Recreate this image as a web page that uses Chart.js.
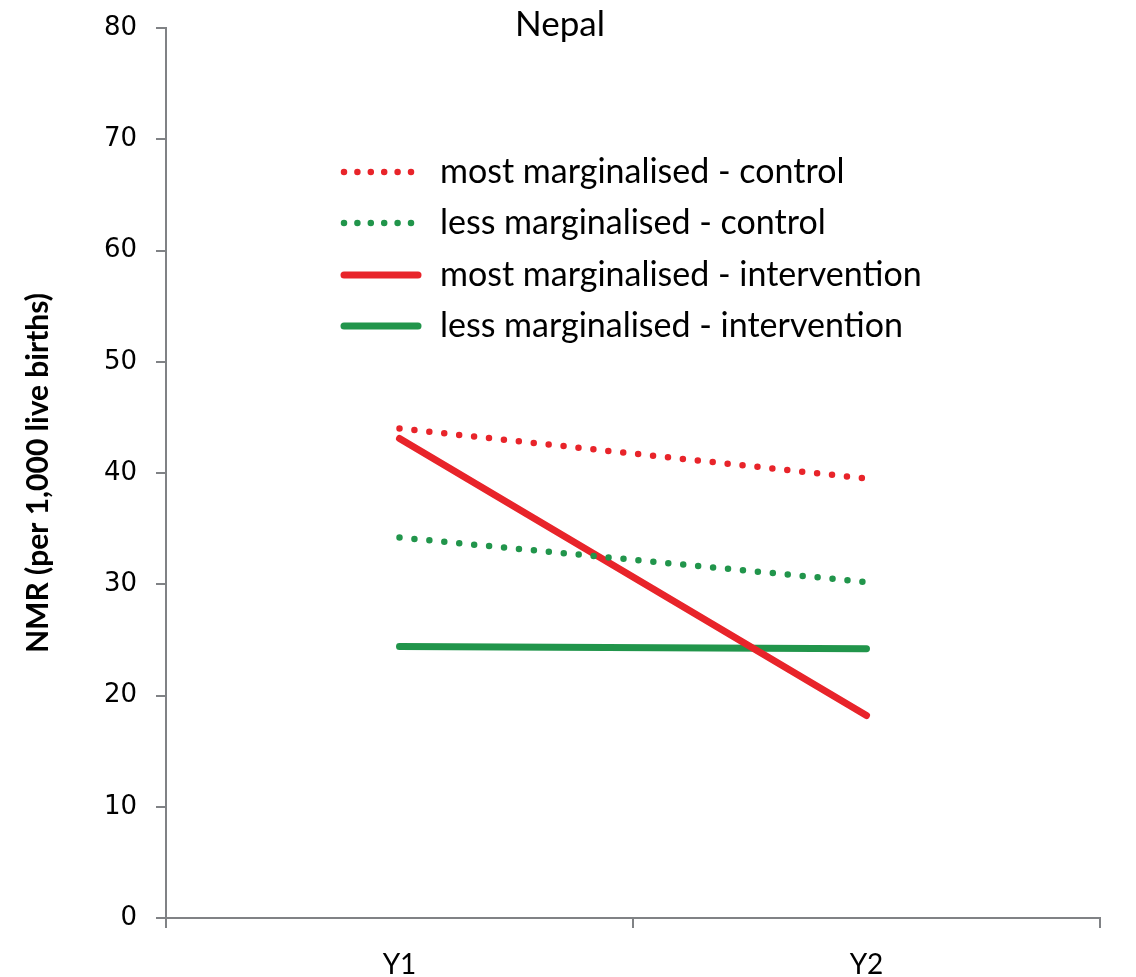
<!DOCTYPE html>
<html>
<head>
<meta charset="utf-8">
<script src="https://cdn.jsdelivr.net/npm/chart.js@4/dist/chart.umd.min.js"></script>
<style>
  html, body { margin: 0; padding: 0; background: #fff; }
  #wrap { width: 1136px; height: 977px; }
</style>
</head>
<body>
<div id="wrap"><canvas id="nmr"></canvas></div>
<script>
// values
const years = ["Y1", "Y2"];
const mostControl = [44.0, 39.5];
const lessControl = [34.2, 30.2];
const mostIntervention = [43.1, 18.2];
const lessIntervention = [24.4, 24.2];

const RED = "#e8242a";
const GREEN = "#21954b";
const AXIS = "#808285";
const TEXT_FONT = "Lato, 'Open Sans', sans-serif";

// legend drawn inside the plot area, like the original
const insideLegend = {
  id: "insideLegend",
  afterDraw(chart) {
    const ctx = chart.ctx;
    const rows = [172, 223, 275, 326];
    ctx.save();
    chart.data.datasets.forEach((ds, i) => {
      const y = rows[i];
      const dotted = !!ds.borderDash;
      ctx.beginPath();
      ctx.strokeStyle = ds.borderColor;
      ctx.lineWidth = ds.borderWidth;
      ctx.lineCap = "round";
      ctx.setLineDash(dotted ? [0, 13.4] : []);
      ctx.moveTo(344, y);
      ctx.lineTo(dotted ? 411 : 418, y);
      ctx.stroke();
      ctx.setLineDash([]);
      ctx.fillStyle = "#000";
      ctx.font = "34px " + TEXT_FONT;
      ctx.textAlign = "left";
      ctx.textBaseline = "middle";
      ctx.fillText(ds.label, 440, y);
    });
    ctx.font = "35px " + TEXT_FONT;
    ctx.textAlign = "center";
    ctx.fillText("Nepal", 560, 25);
    ctx.restore();
  }
};

new Chart(document.getElementById("nmr"), {
  type: "line",
  data: {
    labels: years,
    datasets: [
      { label: "most marginalised - control", data: mostControl, borderColor: RED, borderWidth: 6.5, borderDash: [0, 15], borderCapStyle: "round" },
      { label: "less marginalised - control", data: lessControl, borderColor: GREEN, borderWidth: 6.5, borderDash: [0, 15], borderCapStyle: "round" },
      { label: "most marginalised - intervention", data: mostIntervention, borderColor: RED, borderWidth: 7, borderCapStyle: "round" },
      { label: "less marginalised - intervention", data: lessIntervention, borderColor: GREEN, borderWidth: 7, borderCapStyle: "round" }
    ]
  },
  options: {
    responsive: true,
    maintainAspectRatio: false,
    animation: false,
    elements: { point: { radius: 0, hoverRadius: 0 }, line: { tension: 0 } },
    layout: { padding: { top: 28, right: 36, bottom: 0, left: 0 } },
    plugins: { legend: { display: false }, tooltip: { enabled: false } },
    scales: {
      x: {
        type: "category",
        offset: true,
        grid: { offset: true, drawOnChartArea: false, drawTicks: true, tickLength: 10, color: AXIS, lineWidth: 2 },
        border: { color: AXIS, width: 2 },
        ticks: { color: "#000", padding: 20, font: { family: TEXT_FONT, size: 28 } },
        afterFit(scale) { scale.height = 59; }
      },
      y: {
        min: 0,
        max: 80,
        ticks: { stepSize: 10, color: "#000", padding: 19, font: { family: "'DejaVu Sans', sans-serif", size: 26 } },
        grid: { drawOnChartArea: false, drawTicks: true, tickLength: 10, color: AXIS, lineWidth: 2 },
        border: { color: AXIS, width: 2 },
        title: {
          display: true,
          text: "NMR (per 1,000 live births)",
          color: "#000",
          padding: { top: 20, bottom: 0 },
          font: { family: TEXT_FONT, size: 30, weight: "bold" }
        },
        afterFit(scale) {
          scale.width = 166;
          scale.paddingTop = 0;
          scale.paddingBottom = 0;
        }
      }
    }
  },
  plugins: [insideLegend]
});
</script>
</body>
</html>
